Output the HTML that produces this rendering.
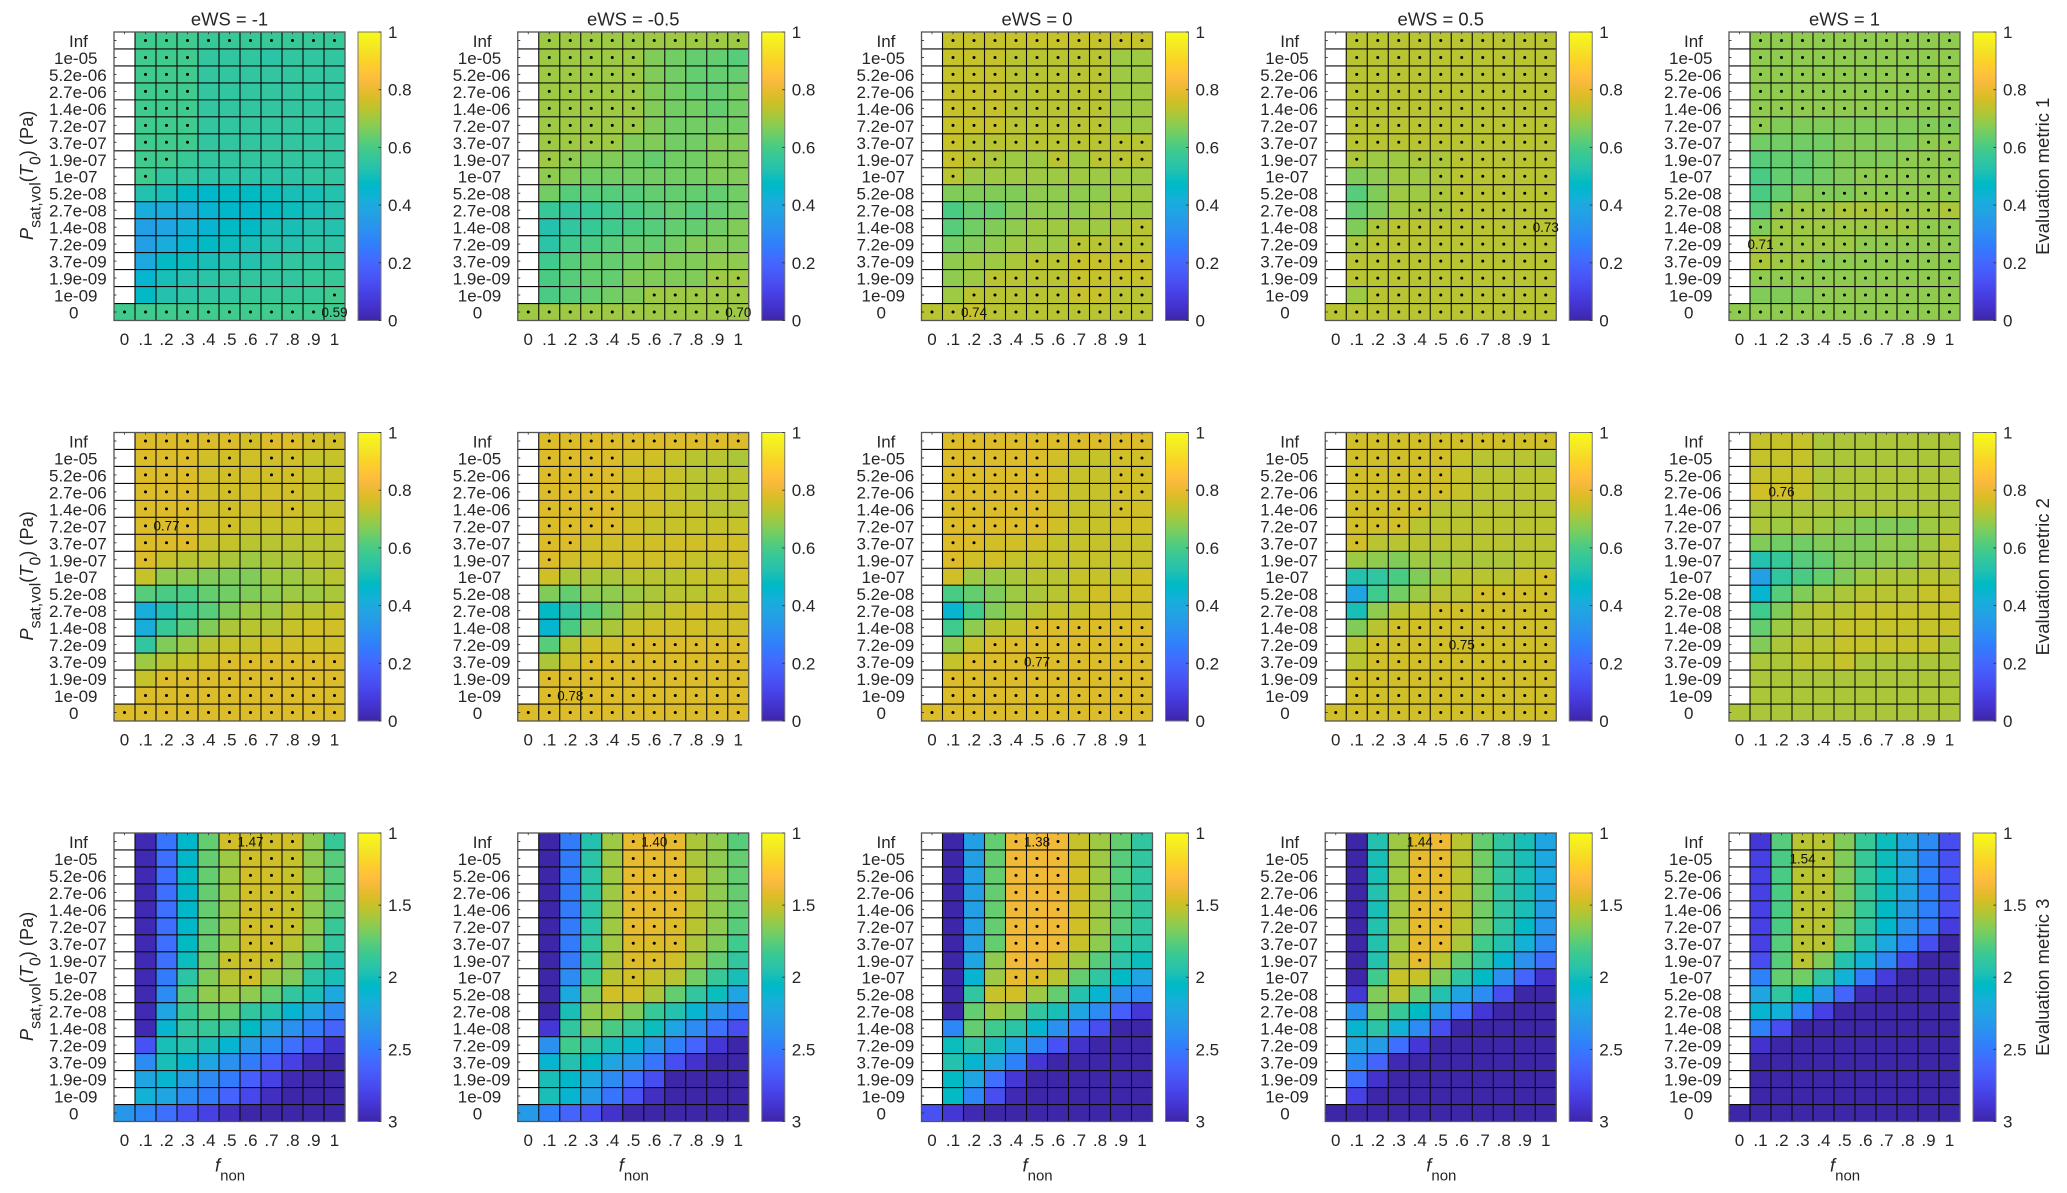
<!DOCTYPE html>
<html lang="en">
<head>
<meta charset="utf-8">
<title>Evaluation metric heatmaps</title>
<style>
html,body{margin:0;padding:0;background:#fff}
svg{display:block}
text{font-family:"Liberation Sans",sans-serif;fill:#262626}
</style>
</head>
<body>
<svg id="chart" xmlns="http://www.w3.org/2000/svg" width="2067" height="1193" viewBox="0 0 2067 1193">
<rect x="0" y="0" width="2067" height="1193" fill="#fff"></rect>
</svg>
<script>
const _ = null;
const xLabels = ["0",".1",".2",".3",".4",".5",".6",".7",".8",".9","1"];
const yLabels = ["Inf","1e-05","5.2e-06","2.7e-06","1.4e-06","7.2e-07","3.7e-07","1.9e-07","1e-07","5.2e-08","2.7e-08","1.4e-08","7.2e-09","3.7e-09","1.9e-09","1e-09","0"];
const columnTitles = ["eWS = -1","eWS = -0.5","eWS = 0","eWS = 0.5","eWS = 1"];
const metricTitles = ["Evaluation metric 1","Evaluation metric 2","Evaluation metric 3"];
const colorbarTicksA = [0,0.2,0.4,0.6,0.8,1];
const colorbarTicksB = [3,2.5,2,1.5,1];
const bestLabels = [["0.59","0.70","0.74","0.73","0.71"],["0.77","0.78","0.77","0.75","0.76"],["1.47","1.40","1.38","1.44","1.54"]];
const bestRows = [[16,16,16,11,12],[5,15,13,12,3],[0,0,0,0,1]];
const bestCols = [[10,10,2,10,1],[2,2,5,6,2],[6,6,5,4,3]];

const m1_n1 = [
[_,.58,.58,.58,.57,.57,.57,.57,.57,.57,.57],
[_,.58,.58,.58,.56,.55,.55,.54,.55,.55,.55],
[_,.58,.58,.58,.56,.55,.55,.55,.55,.55,.55],
[_,.58,.58,.58,.56,.55,.55,.55,.55,.55,.56],
[_,.58,.58,.58,.56,.55,.55,.55,.55,.55,.56],
[_,.58,.58,.58,.56,.55,.55,.55,.55,.56,.56],
[_,.58,.58,.58,.56,.56,.55,.55,.55,.56,.56],
[_,.58,.58,.57,.56,.55,.55,.55,.55,.56,.56],
[_,.58,.56,.55,.54,.54,.54,.54,.54,.55,.55],
[_,.53,.50,.47,.46,.47,.48,.49,.50,.51,.52],
[_,.41,.41,.42,.44,.46,.46,.47,.49,.50,.52],
[_,.37,.39,.43,.45,.47,.48,.50,.51,.52,.53],
[_,.37,.41,.45,.47,.49,.51,.52,.53,.54,.54],
[_,.40,.47,.49,.50,.52,.53,.54,.55,.56,.56],
[_,.45,.50,.52,.54,.55,.56,.56,.56,.57,.57],
[_,.47,.52,.54,.56,.56,.57,.57,.57,.57,.58],
[.58,.58,.58,.58,.58,.58,.58,.58,.58,.58,.59]];
const m1_n05 = [
[_,.69,.69,.69,.69,.69,.70,.70,.70,.70,.70],
[_,.69,.69,.69,.70,.69,.66,.65,.63,.63,.62],
[_,.69,.69,.69,.70,.69,.66,.65,.63,.63,.63],
[_,.69,.69,.69,.70,.69,.66,.65,.64,.64,.65],
[_,.69,.69,.69,.70,.69,.66,.65,.65,.64,.65],
[_,.69,.69,.69,.70,.69,.66,.65,.65,.65,.65],
[_,.69,.69,.69,.69,.67,.66,.65,.65,.66,.66],
[_,.69,.68,.66,.66,.65,.64,.65,.65,.66,.66],
[_,.68,.66,.65,.65,.65,.65,.65,.65,.66,.66],
[_,.65,.62,.61,.61,.61,.63,.64,.64,.64,.65],
[_,.57,.56,.57,.58,.60,.62,.63,.62,.64,.65],
[_,.53,.55,.57,.59,.60,.62,.63,.64,.65,.66],
[_,.54,.58,.60,.62,.63,.64,.65,.66,.66,.66],
[_,.59,.62,.63,.64,.65,.66,.67,.67,.68,.68],
[_,.60,.62,.63,.64,.66,.66,.67,.67,.69,.69],
[_,.60,.62,.64,.65,.66,.69,.69,.69,.69,.69],
[.70,.70,.70,.70,.70,.70,.70,.70,.70,.70,.70]];
const m1_0 = [
[_,.74,.74,.74,.74,.74,.74,.74,.74,.74,.74],
[_,.74,.74,.74,.73,.73,.73,.73,.72,.70,.70],
[_,.74,.74,.74,.73,.73,.73,.73,.72,.70,.70],
[_,.74,.74,.74,.73,.73,.73,.73,.72,.70,.70],
[_,.74,.74,.74,.73,.73,.73,.73,.72,.70,.70],
[_,.74,.74,.74,.73,.73,.73,.72,.72,.70,.70],
[_,.74,.73,.73,.73,.73,.73,.72,.72,.72,.72],
[_,.74,.72,.71,.70,.70,.72,.70,.72,.72,.72],
[_,.73,.69,.69,.69,.69,.69,.69,.69,.70,.70],
[_,.66,.66,.66,.67,.68,.68,.68,.68,.69,.70],
[_,.60,.64,.64,.67,.68,.68,.68,.69,.70,.70],
[_,.61,.65,.67,.68,.69,.70,.70,.70,.71,.72],
[_,.65,.67,.68,.69,.70,.70,.72,.72,.72,.72],
[_,.68,.69,.70,.71,.72,.73,.74,.74,.74,.74],
[_,.68,.70,.72,.72,.73,.73,.74,.74,.74,.74],
[_,.69,.72,.73,.73,.73,.73,.74,.74,.73,.73],
[.73,.73,.74,.73,.73,.73,.73,.73,.73,.73,.73]];
const m1_p05 = [
[_,.72,.72,.72,.72,.72,.72,.72,.72,.72,.72],
[_,.72,.72,.72,.72,.72,.72,.72,.72,.72,.72],
[_,.72,.72,.72,.72,.72,.72,.72,.72,.72,.72],
[_,.72,.72,.72,.72,.72,.72,.72,.72,.72,.72],
[_,.72,.72,.72,.72,.72,.72,.72,.72,.72,.72],
[_,.72,.72,.72,.72,.72,.72,.72,.72,.72,.72],
[_,.72,.72,.72,.72,.72,.72,.72,.72,.72,.72],
[_,.715,.70,.70,.71,.71,.72,.72,.72,.72,.72],
[_,.67,.68,.69,.70,.71,.72,.72,.72,.72,.72],
[_,.62,.67,.69,.70,.71,.72,.72,.72,.72,.72],
[_,.63,.67,.69,.71,.71,.72,.72,.72,.72,.72],
[_,.67,.71,.72,.72,.72,.72,.72,.72,.72,.73],
[_,.71,.72,.72,.72,.72,.72,.72,.72,.72,.72],
[_,.72,.72,.725,.725,.725,.725,.72,.72,.72,.72],
[_,.72,.72,.72,.725,.72,.72,.72,.72,.72,.72],
[_,.69,.72,.72,.72,.72,.72,.72,.72,.72,.72],
[.72,.72,.72,.72,.72,.72,.72,.72,.72,.72,.72]];
const m1_p1 = [
[_,.68,.68,.68,.68,.68,.68,.68,.68,.68,.68],
[_,.685,.685,.685,.685,.685,.685,.685,.685,.685,.685],
[_,.685,.685,.685,.685,.685,.685,.685,.685,.685,.685],
[_,.685,.685,.685,.685,.685,.685,.685,.685,.685,.685],
[_,.685,.685,.685,.685,.685,.685,.685,.685,.685,.685],
[_,.68,.67,.67,.67,.67,.67,.67,.67,.67,.67],
[_,.655,.65,.65,.645,.665,.665,.67,.67,.675,.68],
[_,.62,.63,.64,.645,.665,.665,.67,.675,.68,.68],
[_,.60,.63,.64,.645,.665,.675,.68,.68,.68,.68],
[_,.60,.64,.66,.67,.67,.68,.68,.68,.68,.68],
[_,.62,.68,.69,.70,.705,.705,.705,.70,.70,.705],
[_,.67,.695,.70,.70,.70,.70,.69,.69,.68,.68],
[_,.71,.70,.70,.69,.69,.68,.68,.68,.68,.68],
[_,.71,.69,.69,.68,.68,.68,.68,.68,.68,.68],
[_,.685,.68,.68,.68,.68,.68,.68,.68,.68,.68],
[_,.67,.67,.67,.68,.68,.68,.68,.68,.68,.68],
[.68,.68,.68,.68,.68,.68,.68,.68,.68,.68,.68]];

const m2_n1 = [
[_,.77,.77,.77,.77,.77,.76,.77,.77,.76,.76],
[_,.77,.78,.77,.75,.76,.75,.76,.76,.74,.74],
[_,.77,.78,.77,.75,.76,.75,.76,.76,.74,.74],
[_,.77,.78,.77,.75,.76,.75,.76,.76,.74,.74],
[_,.77,.78,.77,.75,.76,.75,.75,.76,.74,.74],
[_,.77,.77,.77,.75,.76,.74,.74,.74,.74,.74],
[_,.77,.77,.77,.74,.74,.72,.72,.72,.72,.72],
[_,.77,.74,.72,.72,.71,.70,.71,.71,.72,.72],
[_,.74,.68,.68,.67,.67,.67,.69,.70,.71,.72],
[_,.61,.60,.60,.64,.65,.66,.68,.69,.70,.71],
[_,.41,.52,.58,.62,.67,.69,.70,.72,.72,.74],
[_,.41,.57,.62,.67,.71,.72,.73,.74,.75,.75],
[_,.55,.67,.70,.72,.74,.74,.75,.75,.76,.76],
[_,.69,.72,.74,.76,.77,.77,.77,.77,.77,.77],
[_,.74,.77,.77,.77,.77,.77,.77,.77,.77,.77],
[_,.77,.77,.77,.77,.77,.77,.77,.77,.77,.77],
[.77,.77,.77,.77,.77,.77,.77,.77,.77,.77,.77]];
const m2_n05 = [
[_,.78,.78,.78,.78,.78,.77,.77,.77,.77,.77],
[_,.78,.78,.78,.78,.75,.75,.74,.72,.72,.71],
[_,.78,.78,.78,.78,.75,.75,.74,.73,.72,.72],
[_,.78,.78,.78,.78,.75,.75,.74,.73,.73,.72],
[_,.78,.78,.78,.78,.75,.75,.74,.74,.73,.73],
[_,.78,.78,.78,.78,.75,.74,.74,.74,.74,.74],
[_,.78,.78,.76,.75,.75,.75,.75,.75,.75,.75],
[_,.78,.75,.75,.75,.75,.75,.75,.74,.74,.75],
[_,.75,.71,.71,.71,.72,.73,.73,.74,.74,.75],
[_,.66,.64,.68,.68,.70,.71,.72,.73,.74,.74],
[_,.48,.55,.62,.67,.71,.73,.74,.75,.75,.75],
[_,.44,.60,.68,.71,.74,.75,.75,.76,.76,.76],
[_,.62,.72,.75,.75,.78,.78,.78,.78,.78,.78],
[_,.71,.76,.78,.78,.78,.78,.78,.78,.78,.78],
[_,.78,.78,.78,.78,.78,.78,.78,.78,.78,.78],
[_,.78,.78,.78,.78,.78,.78,.78,.78,.78,.78],
[.78,.78,.78,.78,.78,.78,.78,.78,.78,.78,.78]];
const m2_0 = [
[_,.77,.77,.77,.77,.77,.77,.77,.77,.77,.77],
[_,.77,.77,.77,.77,.77,.75,.74,.74,.76,.76],
[_,.77,.77,.77,.77,.77,.75,.74,.74,.76,.76],
[_,.77,.77,.77,.77,.77,.75,.74,.74,.76,.76],
[_,.77,.77,.77,.77,.77,.75,.74,.74,.76,.75],
[_,.77,.77,.77,.77,.77,.75,.74,.74,.75,.75],
[_,.77,.77,.75,.75,.75,.74,.74,.74,.74,.74],
[_,.77,.75,.75,.74,.74,.74,.74,.74,.74,.74],
[_,.75,.70,.70,.71,.72,.73,.74,.74,.74,.75],
[_,.60,.64,.66,.69,.71,.72,.74,.75,.75,.75],
[_,.44,.59,.66,.70,.72,.74,.74,.75,.76,.76],
[_,.58,.68,.72,.74,.77,.77,.77,.77,.77,.77],
[_,.68,.74,.77,.77,.77,.77,.77,.77,.77,.77],
[_,.74,.77,.77,.77,.77,.77,.77,.77,.77,.77],
[_,.77,.77,.77,.77,.77,.77,.77,.77,.77,.77],
[_,.77,.77,.77,.77,.77,.77,.77,.77,.77,.77],
[.77,.77,.77,.77,.77,.77,.77,.77,.77,.77,.77]];
const m2_p05 = [
[_,.75,.75,.75,.75,.75,.75,.75,.75,.75,.75],
[_,.75,.75,.75,.75,.75,.74,.73,.73,.72,.71],
[_,.75,.75,.75,.75,.75,.74,.73,.73,.72,.72],
[_,.75,.75,.75,.75,.75,.74,.73,.73,.72,.72],
[_,.75,.75,.75,.75,.73,.73,.73,.73,.73,.72],
[_,.75,.75,.75,.73,.72,.72,.72,.72,.72,.72],
[_,.75,.72,.72,.72,.72,.72,.72,.72,.72,.72],
[_,.69,.68,.67,.69,.70,.71,.71,.71,.72,.72],
[_,.53,.55,.60,.67,.70,.72,.73,.73,.74,.75],
[_,.38,.58,.65,.70,.72,.73,.75,.75,.75,.75],
[_,.50,.68,.72,.74,.75,.75,.75,.75,.75,.75],
[_,.66,.73,.75,.75,.75,.75,.75,.75,.75,.75],
[_,.72,.75,.75,.75,.75,.75,.75,.75,.75,.75],
[_,.73,.75,.75,.75,.75,.75,.75,.75,.75,.75],
[_,.75,.75,.75,.75,.75,.75,.75,.75,.75,.75],
[_,.75,.75,.75,.75,.75,.75,.75,.75,.75,.75],
[.75,.75,.75,.75,.75,.75,.75,.75,.75,.75,.75]];
const m2_p1 = [
[_,.74,.74,.74,.71,.71,.71,.71,.71,.71,.71],
[_,.74,.74,.74,.71,.71,.71,.71,.71,.71,.71],
[_,.74,.74,.74,.71,.71,.71,.71,.71,.71,.71],
[_,.76,.75,.74,.71,.71,.71,.71,.71,.71,.71],
[_,.71,.71,.71,.71,.71,.71,.71,.71,.71,.71],
[_,.71,.69,.71,.70,.68,.67,.67,.67,.70,.71],
[_,.66,.65,.65,.66,.67,.67,.68,.68,.70,.72],
[_,.52,.57,.61,.64,.66,.67,.68,.68,.71,.72],
[_,.36,.55,.60,.63,.67,.69,.71,.71,.72,.72],
[_,.44,.61,.67,.69,.71,.72,.72,.72,.74,.74],
[_,.58,.67,.71,.72,.72,.74,.74,.74,.74,.74],
[_,.64,.70,.71,.73,.74,.74,.74,.74,.74,.74],
[_,.67,.71,.73,.73,.74,.74,.74,.74,.74,.71],
[_,.71,.71,.73,.73,.74,.71,.71,.71,.71,.71],
[_,.71,.71,.71,.71,.71,.71,.71,.71,.71,.71],
[_,.71,.71,.71,.71,.71,.71,.71,.71,.71,.71],
[.71,.71,.71,.71,.71,.71,.71,.71,.71,.71,.71]];

const m3_n1 = [
[_,2.95,2.52,2.07,1.72,1.5,1.47,1.47,1.5,1.65,1.85],
[_,2.95,2.55,2.08,1.72,1.6,1.5,1.5,1.52,1.65,1.78],
[_,2.95,2.55,2.05,1.72,1.6,1.5,1.5,1.52,1.65,1.76],
[_,2.95,2.55,2.07,1.72,1.6,1.5,1.5,1.52,1.65,1.76],
[_,2.95,2.55,2.07,1.72,1.6,1.5,1.5,1.52,1.65,1.78],
[_,2.95,2.55,2.07,1.72,1.6,1.5,1.5,1.53,1.65,1.85],
[_,2.95,2.55,2.05,1.72,1.6,1.5,1.5,1.55,1.68,1.88],
[_,2.95,2.55,2.02,1.7,1.52,1.5,1.52,1.65,1.8,1.95],
[_,2.95,2.5,1.92,1.66,1.55,1.5,1.62,1.68,1.92,2.0],
[_,2.95,2.38,1.8,1.65,1.6,1.65,1.72,1.88,2.0,2.2],
[_,2.95,2.25,1.85,1.72,1.75,1.9,1.95,2.1,2.25,2.38],
[_,2.95,2.12,1.88,1.85,1.9,2.05,2.25,2.35,2.48,2.62],
[_,2.7,1.98,1.95,2.0,2.12,2.3,2.42,2.55,2.7,2.88],
[_,2.4,1.98,2.1,2.25,2.35,2.48,2.65,2.8,2.95,3],
[_,2.25,2.12,2.28,2.4,2.5,2.65,2.8,2.95,3,3],
[_,2.15,2.25,2.4,2.5,2.62,2.78,2.92,3,3,3],
[2.32,2.42,2.55,2.7,2.8,2.92,3,3,3,3,3]];
const m3_n05 = [
[_,3,2.48,1.95,1.6,1.42,1.40,1.42,1.58,1.65,1.78],
[_,3,2.48,1.93,1.6,1.43,1.43,1.43,1.58,1.65,1.75],
[_,3,2.48,1.92,1.6,1.43,1.43,1.43,1.56,1.65,1.75],
[_,3,2.48,1.92,1.6,1.43,1.43,1.43,1.56,1.65,1.75],
[_,3,2.48,1.93,1.6,1.43,1.43,1.43,1.56,1.65,1.75],
[_,3,2.48,1.93,1.6,1.43,1.43,1.44,1.56,1.65,1.78],
[_,3,2.48,1.9,1.6,1.44,1.44,1.44,1.58,1.67,1.83],
[_,3,2.48,1.88,1.58,1.45,1.45,1.5,1.62,1.75,1.88],
[_,3,2.4,1.82,1.55,1.47,1.52,1.56,1.7,1.85,1.98],
[_,3,2.2,1.7,1.47,1.5,1.58,1.75,1.9,2.03,2.25],
[_,3,2.0,1.65,1.58,1.68,1.85,1.95,2.12,2.32,2.45],
[_,2.85,1.9,1.68,1.8,1.9,2.02,2.22,2.38,2.55,2.72],
[_,2.35,1.82,1.88,2.0,2.12,2.3,2.45,2.62,2.85,3],
[_,2.1,1.95,2.05,2.22,2.32,2.52,2.72,2.9,3,3],
[_,2.0,2.07,2.2,2.38,2.55,2.75,2.98,3,3,3],
[_,2.0,2.12,2.3,2.52,2.7,2.92,3,3,3,3],
[2.3,2.45,2.6,2.7,2.9,3,3,3,3,3,3]];
const m3_0 = [
[_,3,2.28,1.72,1.4,1.38,1.4,1.52,1.62,1.75,1.9],
[_,3,2.28,1.72,1.4,1.4,1.4,1.5,1.62,1.78,1.9],
[_,3,2.28,1.72,1.4,1.4,1.4,1.5,1.62,1.78,1.9],
[_,3,2.28,1.72,1.4,1.4,1.4,1.5,1.62,1.78,1.9],
[_,3,2.28,1.72,1.4,1.4,1.4,1.5,1.62,1.78,1.9],
[_,3,2.28,1.72,1.4,1.4,1.4,1.5,1.62,1.78,1.9],
[_,3,2.28,1.72,1.4,1.4,1.4,1.52,1.65,1.85,1.92],
[_,3,2.25,1.65,1.4,1.4,1.48,1.6,1.78,1.92,2.02],
[_,3,2.12,1.6,1.42,1.45,1.55,1.75,1.9,2.05,2.25],
[_,3,1.9,1.52,1.5,1.62,1.75,1.95,2.12,2.35,2.42],
[_,3,1.75,1.6,1.68,1.88,2.0,2.22,2.4,2.65,2.85],
[_,2.42,1.72,1.82,1.92,2.12,2.35,2.55,2.75,3,3],
[_,2.02,1.88,2,2.2,2.42,2.7,2.9,3,3,3],
[_,1.95,2.12,2.25,2.45,2.85,3,3,3,3,3],
[_,2.05,2.22,2.55,2.85,3,3,3,3,3,3],
[_,2.05,2.42,2.72,2.95,3,3,3,3,3,3],
[2.7,2.85,2.95,3,3,3,3,3,3,3,3]];
const m3_p05 = [
[_,3,1.95,1.6,1.44,1.4,1.55,1.72,1.88,2,2.25],
[_,3,1.97,1.6,1.42,1.42,1.55,1.7,1.88,2.0,2.2],
[_,3,1.97,1.6,1.42,1.42,1.55,1.7,1.88,2.0,2.2],
[_,3,1.95,1.6,1.42,1.42,1.55,1.7,1.88,2.0,2.22],
[_,3,1.97,1.6,1.42,1.42,1.55,1.7,1.88,2,2.27],
[_,3,1.95,1.6,1.42,1.42,1.55,1.7,1.88,2.05,2.32],
[_,3,1.95,1.6,1.42,1.42,1.58,1.82,1.95,2.15,2.38],
[_,3,1.95,1.58,1.42,1.55,1.72,1.9,2.1,2.35,2.55],
[_,3,1.82,1.52,1.52,1.68,1.9,2.05,2.35,2.62,2.88],
[_,2.85,1.68,1.55,1.75,1.95,2.25,2.4,2.75,2.98,3],
[_,2.35,1.72,1.85,2.05,2.32,2.55,2.85,3,3,3],
[_,2.1,1.92,2.15,2.4,2.72,3,3,3,3,3],
[_,2.22,2.3,2.55,2.85,3,3,3,3,3,3],
[_,2.38,2.62,2.95,3,3,3,3,3,3,3],
[_,2.55,2.88,3,3,3,3,3,3,3,3],
[_,2.8,3,3,3,3,3,3,3,3,3],
[3,3,3,3,3,3,3,3,3,3,3]];
const m3_p1 = [
[_,2.85,1.78,1.55,1.55,1.68,1.85,2.02,2.25,2.4,2.75],
[_,2.8,1.8,1.54,1.55,1.68,1.85,2.02,2.25,2.45,2.7],
[_,2.8,1.8,1.55,1.55,1.68,1.85,2.02,2.25,2.45,2.7],
[_,2.8,1.8,1.55,1.55,1.68,1.85,2.02,2.25,2.45,2.7],
[_,2.8,1.8,1.55,1.55,1.68,1.85,2.05,2.3,2.45,2.7],
[_,2.8,1.8,1.55,1.55,1.7,1.9,2.08,2.35,2.5,2.82],
[_,2.8,1.78,1.55,1.55,1.75,1.95,2.2,2.45,2.75,3],
[_,2.75,1.78,1.55,1.68,1.95,2.15,2.42,2.78,3,3],
[_,2.45,1.72,1.7,1.88,2.15,2.5,2.82,3,3,3],
[_,2.25,1.88,2.05,2.32,2.62,2.95,3,3,3,3],
[_,2.1,2.15,2.45,2.8,3,3,3,3,3,3],
[_,2.45,2.75,3,3,3,3,3,3,3,3],
[_,2.9,3,3,3,3,3,3,3,3,3],
[_,3,3,3,3,3,3,3,3,3,3],
[_,3,3,3,3,3,3,3,3,3,3],
[_,3,3,3,3,3,3,3,3,3,3],
[3,3,3,3,3,3,3,3,3,3,3]];

const d1_n1 = ["01111111111","01110000000","01110000000","01110000000","01110000000","01110000000","01110000000","01100000000","01000000000","00000000000","00000000000","00000000000","00000000000","00000000000","00000000000","00000000001","11111111110"];
const d1_n05 = ["01111111111","01111100000","01111100000","01111100000","01111100000","01111100000","01111000000","01100000000","01000000000","00000000000","00000000000","00000000000","00000000000","00000000000","00000000011","00000011111","11111111110"];
const d1_0 = ["01111111111","01111111100","01111111100","01111111100","01111111100","01111111100","01111111111","01110010111","01000000000","00000000000","00000000000","00000000001","00000001111","00000111111","00011111111","00111111111","11011111111"];
const d1_p05 = ["01111111111","01111111111","01111111111","01111111111","01111111111","01111111111","01111111111","01001111111","00000111111","00000111111","00001111111","00111111110","01111111111","01111111111","01111111111","00111111111","11111111111"];
const d1_p1 = ["01111111111","01111111111","01111111111","01111111111","01111111111","01000000011","00000000011","00000000111","00000011111","00001111111","00111111111","01111111111","00111111111","01111111111","01111111111","00001111111","11111111111"];
const d2_n1 = ["01111111111","01110101100","01110101100","01110100100","01110100100","01010100000","01110000000","01000000000","00000000000","00000000000","00000000000","00000000000","00000000000","00000111111","00111111111","01111111111","11111111111"];
const d2_n05 = ["01111111111","01111000000","01111000000","01111000000","01111000000","01111000000","01100000000","01000000000","00000000000","00000000000","00000000000","00000000000","00000111111","00011111111","01111111111","01011111111","11111111111"];
const d2_0 = ["01111111111","01111100011","01111100011","01111100011","01111100010","01111100000","01100000000","01000000000","00000000000","00000000000","00000000000","00000111111","00011111111","00111011111","01111111111","01111111111","11111111111"];
const d2_p05 = ["01111111111","01111100000","01111100000","01111100000","01111000000","01110000000","01000000000","00000000000","00000000001","00000001111","00000111111","00011111111","00111101111","00111111111","01111111111","01111111111","11111111111"];
const d2_p1 = ["00000000000","00000000000","00000000000","00000000000","00000000000","00000000000","00000000000","00000000000","00000000000","00000000000","00000000000","00000000000","00000000000","00000000000","00000000000","00000000000","00000000000"];
const d3_n1 = ["00000101100","00000011100","00000011100","00000011100","00000011100","00000011100","00000011000","00000111000","00000010000","00000000000","00000000000","00000000000","00000000000","00000000000","00000000000","00000000000","00000000000"];
const d3_n05 = ["00000101000","00000111000","00000111000","00000111000","00000111000","00000111000","00000111000","00000110000","00000100000","00000000000","00000000000","00000000000","00000000000","00000000000","00000000000","00000000000","00000000000"];
const d3_0 = ["00001010000","00001110000","00001110000","00001110000","00001110000","00001110000","00001110000","00001100000","00001100000","00000000000","00000000000","00000000000","00000000000","00000000000","00000000000","00000000000","00000000000"];
const d3_p05 = ["00000100000","00001100000","00001100000","00001100000","00001100000","00001100000","00001100000","00001000000","00000000000","00000000000","00000000000","00000000000","00000000000","00000000000","00000000000","00000000000","00000000000"];
const d3_p1 = ["00011000000","00001000000","00011000000","00011000000","00011000000","00011000000","00011000000","00010000000","00000000000","00000000000","00000000000","00000000000","00000000000","00000000000","00000000000","00000000000","00000000000"];

const metricValues = [[m1_n1,m1_n05,m1_0,m1_p05,m1_p1],[m2_n1,m2_n05,m2_0,m2_p05,m2_p1],[m3_n1,m3_n05,m3_0,m3_p05,m3_p1]];
const dotMasks = [[d1_n1,d1_n05,d1_0,d1_p05,d1_p1],[d2_n1,d2_n05,d2_0,d2_p05,d2_p1],[d3_n1,d3_n05,d3_0,d3_p05,d3_p1]];

const parula = [[.2422,.1504,.6603],[.2504,.1650,.7076],[.2578,.1818,.7511],[.2647,.1978,.7952],[.2706,.2147,.8364],[.2751,.2342,.8710],[.2783,.2559,.8991],[.2803,.2782,.9221],[.2813,.3006,.9414],[.2810,.3228,.9579],[.2795,.3447,.9717],[.2760,.3667,.9829],[.2699,.3892,.9906],[.2602,.4123,.9952],[.2440,.4358,.9988],[.2206,.4603,.9973],[.1963,.4847,.9892],[.1834,.5074,.9798],[.1786,.5289,.9682],[.1764,.5499,.9520],[.1687,.5703,.9359],[.1540,.5902,.9218],[.1460,.6091,.9079],[.1380,.6276,.8973],[.1248,.6459,.8883],[.1113,.6635,.8763],[.0952,.6798,.8598],[.0689,.6948,.8394],[.0297,.7082,.8163],[.0036,.7203,.7917],[.0067,.7312,.7660],[.0433,.7411,.7394],[.0964,.7500,.7120],[.1408,.7584,.6842],[.1717,.7670,.6554],[.1938,.7758,.6251],[.2161,.7843,.5923],[.2470,.7918,.5567],[.2906,.7973,.5188],[.3406,.8008,.4789],[.3909,.8029,.4354],[.4456,.8024,.3909],[.5044,.7993,.3480],[.5616,.7942,.3045],[.6174,.7876,.2612],[.6720,.7793,.2227],[.7242,.7698,.1910],[.7738,.7598,.1646],[.8203,.7498,.1535],[.8634,.7406,.1596],[.9035,.7330,.1774],[.9393,.7288,.2100],[.9728,.7298,.2394],[.9956,.7434,.2371],[.9970,.7659,.2199],[.9952,.7861,.1967],[.9892,.8136,.1711],[.9786,.8368,.1505],[.9676,.8620,.1409],[.9610,.8890,.1537],[.9597,.9135,.1423],[.9628,.9373,.1265],[.9691,.9606,.1064],[.9769,.9839,.0805]];

const SVG_NS = "http://www.w3.org/2000/svg";
const chart = document.getElementById("chart");
const CELL_W = 21;
const CELL_H = 16.97;
const PLOT_W = CELL_W * xLabels.length;
const PLOT_H = CELL_H * yLabels.length;
const CB_GAP = 13;
const CB_W = 23;

function mk(tag, attrs, parent, content) {
  const node = document.createElementNS(SVG_NS, tag);
  for (const key in attrs) node.setAttribute(key, attrs[key]);
  if (content !== undefined) node.textContent = content;
  parent.appendChild(node);
  return node;
}
function panelLeft(col) { return 114 + col * 403.75; }
function panelTop(row) { return 32 + row * 400.5; }
function xCell(col, c) { return panelLeft(col) + c * CELL_W; }
function yCell(row, r) { return panelTop(row) + r * CELL_H; }
function colorbarY(row, t) { return panelTop(row) + PLOT_H * (1 - t); }
function normalize(row, v) { return row === 2 ? (3 - v) / 2 : v; }
function rgb(c) { return "rgb(" + c.map(k => Math.round(255 * k)).join(",") + ")"; }
function colormap(t) {
  const n = parula.length;
  const i = Math.max(0, Math.min(n - 1, Math.floor(t * n)));
  return rgb(parula[i]);
}
function yLabelOffset(label) {
  if (label.length >= 7) return -65;
  if (label.length === 5) return -60;
  return -45;
}

const defs = mk("defs", {}, chart);
const gradient = mk("linearGradient", {id: "parula-gradient", x1: 0, y1: 1, x2: 0, y2: 0}, defs);
parula.forEach((c, i) => {
  mk("stop", {offset: i / (parula.length - 1), "stop-color": rgb(c)}, gradient);
});

function drawHeatmap(group, row, col) {
  const values = metricValues[row][col];
  const mask = dotMasks[row][col];
  values.forEach((rowValues, r) => {
    rowValues.forEach((v, c) => {
      const fill = v === null ? "#ffffff" : colormap(normalize(row, v));
      const cell = mk("rect", {x: xCell(col, c), y: yCell(row, r), width: CELL_W + 0.3, height: CELL_H + 0.3, fill: fill}, group);
      
      
    });
  });
  for (let c = 1; c < xLabels.length; c++) {
    const line = mk("line", {x1: xCell(col, c), x2: xCell(col, c), y1: yCell(row, 0), y2: yCell(row, yLabels.length), stroke: "#0a0a0a", "stroke-width": 1.1}, group);
    
    
  }
  for (let r = 1; r < yLabels.length; r++) {
    const line = mk("line", {x1: xCell(col, 0), x2: xCell(col, xLabels.length), y1: yCell(row, r), y2: yCell(row, r), stroke: "#0a0a0a", "stroke-width": 1.1}, group);
    
    
  }
  const frame = mk("rect", {x: xCell(col, 0), y: yCell(row, 0), width: PLOT_W, height: PLOT_H, fill: "none", stroke: "#555", "stroke-width": 1.3}, group);
  
  
  yLabels.forEach((label, r) => {
    const tick = mk("line", {x1: xCell(col, 0), x2: xCell(col, 0) + 2.5, y1: yCell(row, r + 0.5), y2: yCell(row, r + 0.5), stroke: "#333", "stroke-width": 0.9}, group);
    
    
    const text = mk("text", {x: xCell(col, 0) + yLabelOffset(label), y: yCell(row, r + 0.5) + 6.5, "font-size": 17}, group, label);
    
    
  });
  xLabels.forEach((label, c) => {
    const tick = mk("line", {x1: xCell(col, c + 0.5), x2: xCell(col, c + 0.5), y1: yCell(row, 0), y2: yCell(row, 0) + 2.2, stroke: "#333", "stroke-width": 0.8}, group);
    
    
    const text = mk("text", {x: xCell(col, c + 0.5), y: yCell(row, yLabels.length) + 24.5, "font-size": 17, "text-anchor": "middle"}, group, label);
    
    
  });
  mask.forEach((bits, r) => {
    for (let c = 0; c < bits.length; c++) {
      if (bits[c] === "1") {
        const dot = mk("circle", {cx: xCell(col, c + 0.5), cy: yCell(row, r + 0.5), r: 1.5, fill: "#000"}, group);
        
        
      }
    }
  });
  const best = mk("text", {x: xCell(col, bestCols[row][col] + 0.5), y: yCell(row, bestRows[row][col] + 0.5) + 4.8, "font-size": 13.4, "text-anchor": "middle", style: "fill:#111"}, group, bestLabels[row][col]);
  
  
}

function drawColorbar(group, row, col) {
  const x = xCell(col, xLabels.length) + CB_GAP;
  const bar = mk("rect", {x: x, y: panelTop(row), width: CB_W, height: PLOT_H, fill: "url(#parula-gradient)", stroke: "#777", "stroke-width": 1}, group);
  
  
  const ticks = row === 2 ? colorbarTicksB : colorbarTicksA;
  ticks.forEach(v => {
    const y = colorbarY(row, normalize(row, v));
    const tick = mk("line", {x1: x + CB_W - 2.5, x2: x + CB_W, y1: y, y2: y, stroke: "#333", "stroke-width": 0.9}, group);
    
    
    const text = mk("text", {x: x + CB_W + 7, y: y + 6, "font-size": 17}, group, String(v));
    
    
  });
}

function drawYTitle(group, row) {
  const title = mk("text", {transform: "translate(33," + (panelTop(row) + 208) + ") rotate(-90)", "font-size": 18.2}, group);
  
  
  mk("tspan", {"font-style": "italic"}, title, "P");
  mk("tspan", {"font-size": 15.8, dy: 7.5}, title, "sat,vol");
  mk("tspan", {dy: -7.5}, title, "(");
  mk("tspan", {"font-style": "italic"}, title, "T");
  mk("tspan", {"font-size": 15.8, dy: 7.5}, title, "0");
  mk("tspan", {dy: -7.5}, title, ") (Pa)");
}

function drawXTitle(group, row, col) {
  const title = mk("text", {x: xCell(col, 0) + 101, y: yCell(row, yLabels.length) + 50, "font-size": 18.4}, group);
  
  
  mk("tspan", {"font-style": "italic"}, title, "f");
  mk("tspan", {dy: 9, "font-size": 15}, title, "non");
}

metricValues.forEach((rowPanels, row) => {
  rowPanels.forEach((values, col) => {
    const group = mk("g", {}, chart);
    
    
    drawHeatmap(group, row, col);
    drawColorbar(group, row, col);
    if (row === 0) {
      const title = mk("text", {x: xCell(col, 5.5), y: 25.5, "font-size": 18.4, "text-anchor": "middle"}, group, columnTitles[col]);
      
      
    }
    if (col === 0) drawYTitle(group, row);
    if (row === 2) drawXTitle(group, row, col);
    if (col === 4) {
      const label = mk("text", {transform: "translate(2049," + (panelTop(row) + PLOT_H / 2) + ") rotate(-90)", "font-size": 18.5, "text-anchor": "middle"}, group, metricTitles[row]);
      
      
    }
  });
});
</script>
</body>
</html>
